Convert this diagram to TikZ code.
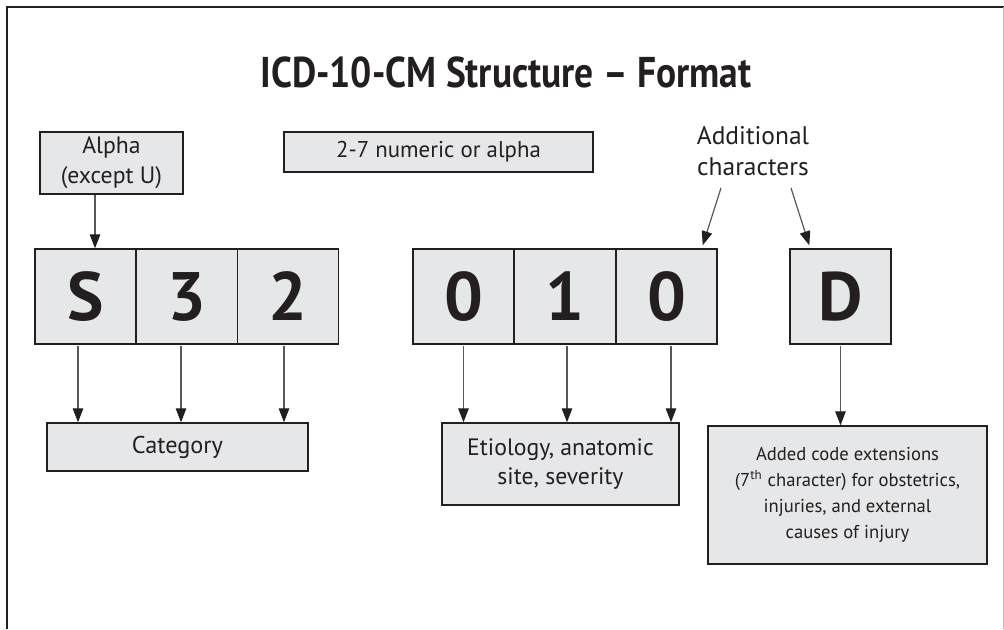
\documentclass[tikz,border=0pt]{standalone}
\usepackage{fontspec}
\setmainfont{PT Sans}
\usetikzlibrary{arrows.meta, calc}
\definecolor{boxgrey}{HTML}{E6E7E8}
\definecolor{inkdark}{HTML}{231F20}
\definecolor{shaftgrey}{HTML}{58595B}

\begin{document}
\begin{tikzpicture}[x=0.02cm, y=-0.02cm,
            greybox/.style={draw=inkdark, line width=0.8pt, fill=boxgrey, text=inkdark, inner sep=0pt, align=center},
            charbox/.style={greybox, minimum width=2.02cm, minimum height=1.9cm, font=\fontsize{39}{39}\selectfont\bfseries},
            pointer/.style={draw=shaftgrey, line width=0.7pt, -{Triangle[width=6pt, length=8pt, color=inkdark, fill=inkdark]}}
            ]
            \useasboundingbox (0, 0) rectangle (1004, 629);

            % frame
            \draw[inkdark, line width=1.4pt] (7, 629) -- (7, 7) -- (1004, 7);
            \draw[black!25, line width=0.5pt] (1003, 7) -- (1003, 629);

            \node[text=inkdark, font=\fontsize{24.5}{30}\selectfont\bfseries] (title) at (506, 72) {\scalebox{0.87}[1]{ICD-10-CM Structure -- Format}};

            % code characters
            \node[charbox] (cS) at (85.5, 296.5) {S};
            \node[charbox] (c3) at (187, 296.5) {3};
            \node[charbox] (c2) at (288, 296.5) {2};
            \node[charbox] (c4) at (463.5, 296.5) {0};
            \node[charbox] (c5) at (565, 296.5) {1};
            \node[charbox] (c6) at (666.5, 296.5) {0};
            \node[charbox] (cD) at (840.5, 296.5) {D};

            % upper labels
            \node[greybox, minimum width=2.86cm, minimum height=1.24cm, font=\fontsize{13.5}{17}\selectfont] (alpha) at (111.5, 163) {Alpha\\(except U)};
            \node[greybox, minimum width=6.18cm, minimum height=0.8cm, font=\fontsize{13}{15}\selectfont] (numeric) at (438.5, 152) {2-7 numeric or alpha};
            \node[text=inkdark, align=center, font=\fontsize{14.5}{18}\selectfont] (addl) at (753, 151) {Additional\\characters};

            % lower labels
            \node[greybox, minimum width=5.22cm, minimum height=0.96cm, font=\fontsize{13.8}{16}\selectfont] (cat) at (177.5, 447) {Category};
            \node[greybox, minimum width=4.74cm, minimum height=1.64cm, font=\fontsize{13.5}{16}\selectfont] (etio) at (560.5, 464) {Etiology, anatomic\\site, severity};
            \node[greybox, minimum width=5.58cm, minimum height=2.76cm, font=\fontsize{10.6}{14.7}\selectfont] (added) at (847.5, 495) {Added code extensions\\(7\textsuperscript{th} character) for obstetrics,\\injuries, and external\\causes of injury};

            % arrows into the characters
            \coordinate (alphaout) at ([shift={(-16.5, 0)}] alpha.south);
            \draw[pointer] (alphaout) -- (alphaout |- cS.north);

            \coordinate (addlL) at ([shift={(-32, 37)}] addl.center);
            \coordinate (addlR) at ([shift={(38, 37)}] addl.center);
            \coordinate (tipL) at ([shift={(-15, -3)}] c6.north east);
            \coordinate (tipR) at ([shift={(20, -3)}] cD.north west);
            \draw[pointer] (addlL) -- (tipL);
            \draw[pointer] (addlR) -- (tipR);

            % arrows out of the characters
            \foreach \src/\dx/\dst in {cS/-7.5/cat, c3/-6/cat, c2/-4/cat, c4/0/etio, c5/2/etio, c6/4.5/etio, cD/0/added}{
                \coordinate (from) at ([shift={(\dx, 1)}] \src.south);
                \draw[pointer] (from) -- (from |- \dst.north);
            }
        \end{tikzpicture}
\end{document}
